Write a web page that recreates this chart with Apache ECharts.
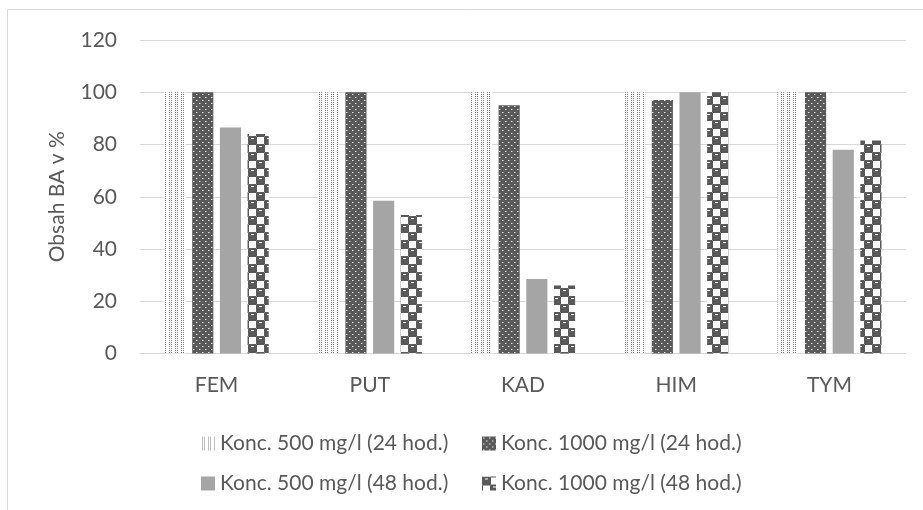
<!DOCTYPE html>
<html>
<head>
<meta charset="utf-8">
<script src="https://cdn.jsdelivr.net/npm/echarts@6/dist/echarts.min.js"></script>
<style>
  html, body { margin: 0; padding: 0; background: #ffffff; }
  #chart { width: 923px; height: 510px; }
</style>
</head>
<body>
<div id="chart"></div>
<script>
// Samples and measured content of BA (%)
const categories = ['FEM', 'PUT', 'KAD', 'HIM', 'TYM'];
const seriesNames = [
  'Konc. 500 mg/l (24 hod.)',
  'Konc. 1000 mg/l (24 hod.)',
  'Konc. 500 mg/l (48 hod.)',
  'Konc. 1000 mg/l (48 hod.)'
];
const conc500h24 = [100, 100, 100, 100, 100];
const conc1000h24 = [100, 100, 95, 97, 100];
const conc500h48 = [86.5, 58.5, 28.5, 100, 78];
const conc1000h48 = [84, 53, 26, 100, 81.5];
const yTicks = { min: 0, max: 120, interval: 20 };

const FONT = 'Lato';
const FS = 21;
const TEXT = '#595959';
const DARK = '#595959';

function tile(w, h, draw) {
  const c = document.createElement('canvas');
  c.width = w; c.height = h;
  const g = c.getContext('2d');
  draw(g);
  return { image: c, repeat: 'repeat' };
}

// fine dotted fill: paired columns of dots
const dotted = tile(6, 2, g => {
  g.fillStyle = '#ffffff'; g.fillRect(0, 0, 6, 2);
  g.fillStyle = '#808080';
  g.fillRect(1, 0, 1, 1); g.fillRect(3, 0, 1, 1);
});

// dark fill with small light dots
const darkDots = tile(6, 6, g => {
  g.fillStyle = DARK; g.fillRect(0, 0, 6, 6);
  g.fillStyle = '#e8e8e8';
  g.fillRect(1, 1, 1, 1);
  g.fillRect(4, 4, 1, 1);
  g.fillStyle = '#9a9a9a';
  g.fillRect(2, 1, 1, 1); g.fillRect(5, 4, 1, 1);
});

const solidGray = '#a5a5a5';

// checkerboard of dark blocks, each with a small light dash
const spheres = tile(16, 16, g => {
  g.fillStyle = '#ffffff'; g.fillRect(0, 0, 16, 16);
  g.fillStyle = DARK;
  const blob = (x, y) => {
    g.beginPath();
    g.moveTo(x + 1, y);
    g.lineTo(x + 8, y);
    g.lineTo(x + 9, y + 1);
    g.lineTo(x + 9, y + 8);
    g.lineTo(x + 8, y + 9);
    g.lineTo(x + 1, y + 9);
    g.lineTo(x, y + 8);
    g.lineTo(x, y + 1);
    g.closePath();
    g.fill();
  };
  blob(0, 0); blob(8, 8); blob(-8, 8); blob(8, -8); blob(-8, -8); blob(16, 0); blob(0, 16); blob(16, 16);
  g.fillStyle = '#ffffff';
  g.fillRect(3, 2, 3, 1);
  g.fillRect(11, 10, 3, 1);
});

const fills = [dotted, darkDots, solidGray, spheres];
const values = [conc500h24, conc1000h24, conc500h48, conc1000h48];

const chart = echarts.init(document.getElementById('chart'), null, { renderer: 'canvas' });

const legendCommon = {
  orient: 'vertical',
  itemWidth: 14,
  itemHeight: 14,
  itemGap: 19,
  icon: 'rect',
  textStyle: { color: TEXT, fontFamily: FONT, fontSize: FS }
};

chart.setOption({
  animation: false,
  backgroundColor: '#ffffff',
  graphic: [{
    type: 'rect',
    shape: { x: 7.5, y: 9.5, width: 1000, height: 600 },
    style: { fill: 'none', stroke: '#d9d9d9', lineWidth: 1 },
    silent: true
  }],
  grid: { left: 140, right: 17, top: 40, bottom: 156.5, containLabel: false },
  legend: [
    Object.assign({ left: 196, top: 428, data: [seriesNames[0], seriesNames[2]] }, legendCommon),
    Object.assign({ left: 477, top: 428, data: [seriesNames[1], seriesNames[3]] }, legendCommon)
  ],
  xAxis: {
    type: 'category',
    data: categories,
    axisLine: { lineStyle: { color: '#d9d9d9', width: 1 } },
    axisTick: { show: false },
    axisLabel: { color: TEXT, fontFamily: FONT, fontSize: FS, margin: 21 }
  },
  yAxis: {
    type: 'value',
    min: yTicks.min,
    max: yTicks.max,
    interval: yTicks.interval,
    name: 'Obsah BA v %',
    nameLocation: 'middle',
    nameGap: 72,
    nameTextStyle: { color: TEXT, fontFamily: FONT, fontSize: FS },
    axisLine: { show: false },
    axisTick: { show: false },
    axisLabel: { color: TEXT, fontFamily: FONT, fontSize: FS, margin: 23 },
    splitLine: { lineStyle: { color: '#d9d9d9', width: 1 } }
  },
  series: values.map((arr, i) => ({
    name: seriesNames[i],
    type: 'bar',
    data: arr,
    barGap: '31%',
    barCategoryGap: '32%',
    itemStyle: { color: fills[i] }
  }))
});
</script>
</body>
</html>
